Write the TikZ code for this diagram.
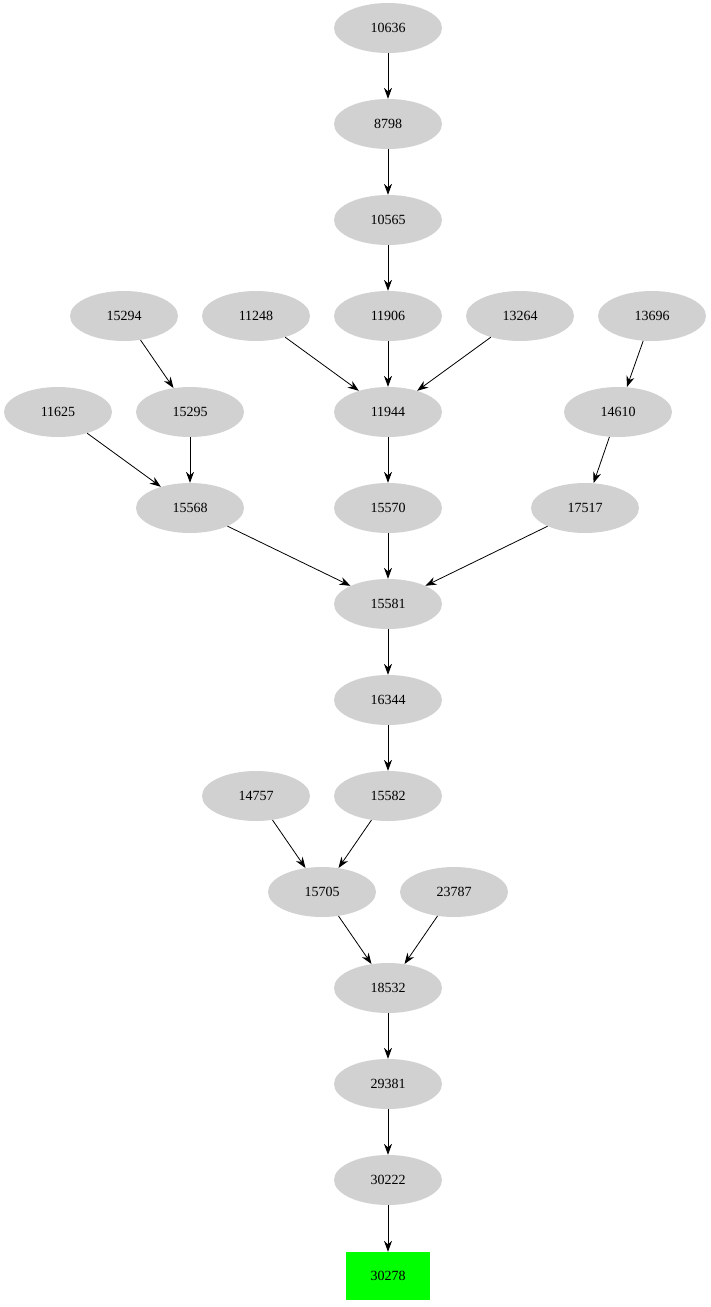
\documentclass[tikz,border=0pt]{standalone}
\usepackage{fontspec}
\setmainfont{Liberation Serif}
\usetikzlibrary{shapes.geometric,arrows.meta}
\begin{document}
\begin{tikzpicture}[x=1pt, y=-1pt, font=\fontsize{14}{16}\selectfont]
    \tikzstyle{job} = [ellipse, fill=black!18, minimum width=108pt, minimum height=50pt, inner sep=0pt]
    \tikzstyle{target} = [rectangle, fill=green, minimum width=84pt, minimum height=48pt, inner sep=0pt]
    \tikzstyle{dep} = [-{Stealth[length=11pt, width=8pt]}, black, line width=0.8pt]
    \useasboundingbox (0,0) rectangle (711,1307);

    % Top chain
    \node [job] (n10636) at (388,28) {10636};
    \node [job] (n8798) at (388,124) {8798};
    \node [job] (n10565) at (388,220) {10565};

    % Upper row
    \node [job] (n15294) at (124,316) {15294};
    \node [job] (n11248) at (256,316) {11248};
    \node [job] (n11906) at (388,316) {11906};
    \node [job] (n13264) at (520,316) {13264};
    \node [job] (n13696) at (652,316) {13696};

    \node [job] (n11625) at (58,412) {11625};
    \node [job] (n15295) at (190,412) {15295};
    \node [job] (n11944) at (388,412) {11944};
    \node [job] (n14610) at (618,412) {14610};

    \node [job] (n15568) at (190,508) {15568};
    \node [job] (n15570) at (388,508) {15570};
    \node [job] (n17517) at (585,508) {17517};

    % Middle and lower chain
    \node [job] (n15581) at (388,604) {15581};
    \node [job] (n16344) at (388,700) {16344};
    \node [job] (n14757) at (256,796) {14757};
    \node [job] (n15582) at (388,796) {15582};
    \node [job] (n15705) at (322,892) {15705};
    \node [job] (n23787) at (454,892) {23787};
    \node [job] (n18532) at (388,988) {18532};
    \node [job] (n29381) at (388,1084) {29381};
    \node [job] (n30222) at (388,1180) {30222};
    \node [target] (n30278) at (388,1276) {30278};

    % Connections
    \draw [dep] (n10636) -- (n8798);
    \draw [dep] (n8798) -- (n10565);
    \draw [dep] (n10565) -- (n11906);
    \draw [dep] (n11248) -- (n11944);
    \draw [dep] (n11906) -- (n11944);
    \draw [dep] (n13264) -- (n11944);
    \draw [dep] (n15294) -- (n15295);
    \draw [dep] (n13696) -- (n14610);
    \draw [dep] (n11625) -- (n15568);
    \draw [dep] (n15295) -- (n15568);
    \draw [dep] (n11944) -- (n15570);
    \draw [dep] (n14610) -- (n17517);
    \draw [dep] (n15568) -- (n15581);
    \draw [dep] (n15570) -- (n15581);
    \draw [dep] (n17517) -- (n15581);
    \draw [dep] (n15581) -- (n16344);
    \draw [dep] (n16344) -- (n15582);
    \draw [dep] (n14757) -- (n15705);
    \draw [dep] (n15582) -- (n15705);
    \draw [dep] (n15705) -- (n18532);
    \draw [dep] (n23787) -- (n18532);
    \draw [dep] (n18532) -- (n29381);
    \draw [dep] (n29381) -- (n30222);
    \draw [dep] (n30222) -- (n30278);
\end{tikzpicture}
\end{document}
